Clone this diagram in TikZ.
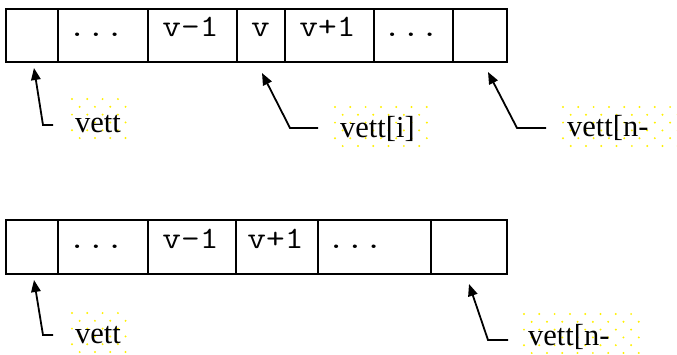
\documentclass[tikz,border=0pt]{standalone}
\usepackage{fontspec}
\setmainfont{Liberation Serif}
\newfontfamily\cellfont[FakeStretch=1.17]{Latin Modern Mono}
\usetikzlibrary{arrows.meta}

\definecolor{dotyellow}{RGB}{255,240,0}

\tikzset{
  cell/.style={draw, line width=2.6pt, rectangle, inner sep=0pt, outer sep=0pt,
               anchor=north west, minimum height=53pt},
  celltext/.style={anchor=base, inner sep=0pt, font=\cellfont\fontsize{31}{35}\selectfont},
  lbl/.style={anchor=base west, inner sep=0pt, font=\fontsize{30.5}{34}\selectfont},
  ptr/.style={draw, line width=1.8pt, -{Triangle[length=12pt,width=9.5pt]}},
}

\begin{document}
\begin{tikzpicture}[x=1pt,y=-1pt]
\useasboundingbox (0,0) rectangle (677,354);

% yellow dotted backgrounds of the text frames
\foreach \xa/\ya/\xb/\yb in {72/99/126/138, 335/107/427/146, 563/107/677/146,
                             72/313/126/352, 524/314/642/352}{
  \begin{scope}
    \clip (\xa-1.5,\ya-1.5) rectangle (\xb+1.5,\yb+1.5);
    \foreach \r in {0,...,5}{
      \foreach \c in {0,...,8}{
        \fill[dotyellow] ({\xa+15.3*\c+7.65*mod(\r,2)},{\ya+7.8*\r}) circle (1.1);
      }
    }
  \end{scope}
}

% ---- first array ----
\node[cell, minimum width=52] (a1) at (6,9) {};
\node[cell, minimum width=90] (a2) at (58,9) {};
\node[cell, minimum width=89] (a3) at (148,9) {};
\node[cell, minimum width=48] (a4) at (237,9) {};
\node[cell, minimum width=89] (a5) at (285,9) {};
\node[cell, minimum width=79] (a6) at (374,9) {};
\node[cell, minimum width=54] (a7) at (453,9) {};

\node[celltext] (ta2) at (96,36.5) {...};
\node[celltext] (ta3) at (190.5,36.5) {v-1};
\node[celltext] (ta4) at (260.5,36.5) {v};
\node[celltext] (ta5) at (327.5,36.5) {v+1};
\node[celltext] (ta6) at (411,36.5) {...};

\node[lbl] (la1) at (75,132) {vett};
\node[lbl] (la4) at (340,137) {vett[i]};
\node[lbl] (la7) at (567,136) {vett[n-};

\coordinate (sa1) at (53,125);  \coordinate (ka1) at (43,125);  \coordinate (pa1) at (34,68);
\coordinate (sa4) at (318,128); \coordinate (ka4) at (290,128); \coordinate (pa4) at (262,73);
\coordinate (sa7) at (546,128); \coordinate (ka7) at (517,128); \coordinate (pa7) at (488,72);

\draw[ptr] (sa1) -- (ka1) -- (pa1);
\draw[ptr] (sa4) -- (ka4) -- (pa4);
\draw[ptr] (sa7) -- (ka7) -- (pa7);

% ---- second array ----
\node[cell, minimum width=52, minimum height=54] (b1) at (6,220) {};
\node[cell, minimum width=90, minimum height=54] (b2) at (58,220) {};
\node[cell, minimum width=88, minimum height=54] (b3) at (148,220) {};
\node[cell, minimum width=82, minimum height=54] (b4) at (236,220) {};
\node[cell, minimum width=113, minimum height=54] (b5) at (318,220) {};
\node[cell, minimum width=76, minimum height=54] (b6) at (431,220) {};

\node[celltext] (tb2) at (96,248) {...};
\node[celltext] (tb3) at (190.5,248) {v-1};
\node[celltext] (tb4) at (275.5,248) {v+1};
\node[celltext] (tb5) at (355,248) {...};

\node[lbl] (lb1) at (75,343) {vett};
\node[lbl] (lb6) at (528,345) {vett[n-};

\coordinate (sb1) at (53,335);  \coordinate (kb1) at (43,335);  \coordinate (pb1) at (34,280);
\coordinate (sb6) at (508,340); \coordinate (kb6) at (488,340); \coordinate (pb6) at (469,284);

\draw[ptr] (sb1) -- (kb1) -- (pb1);
\draw[ptr] (sb6) -- (kb6) -- (pb6);
\end{tikzpicture}
\end{document}
